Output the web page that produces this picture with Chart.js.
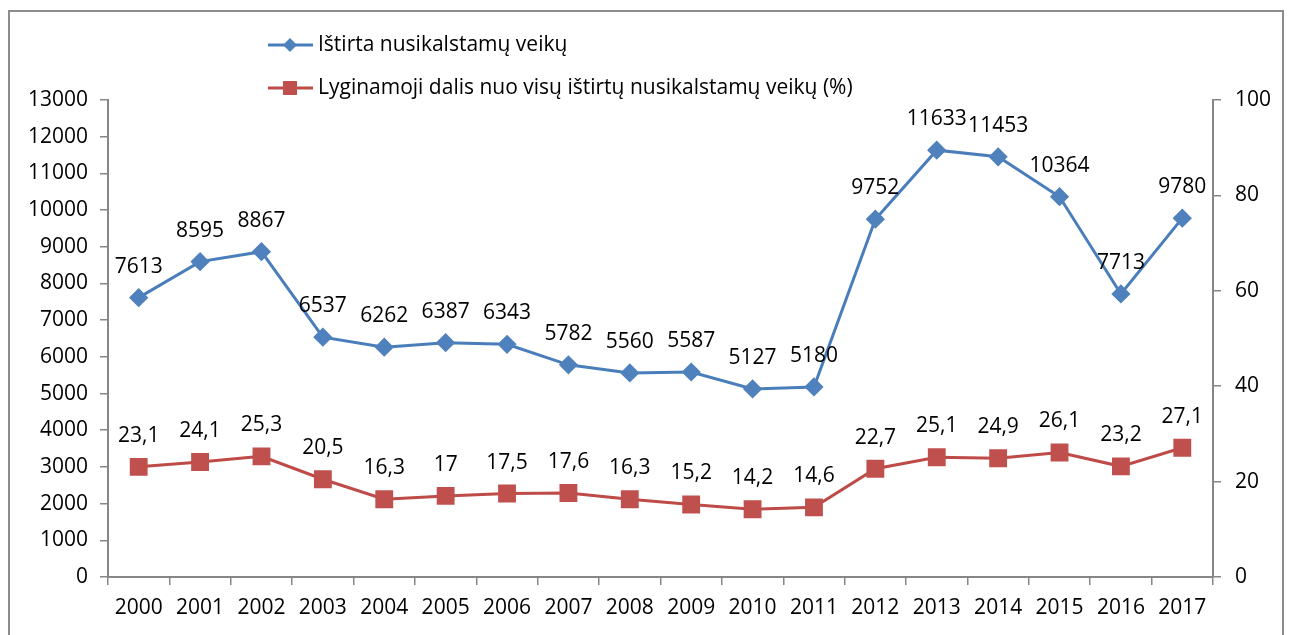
<!DOCTYPE html>
<html>
<head>
<meta charset="utf-8">
<script src="https://cdn.jsdelivr.net/npm/chart.js@4.4.1/dist/chart.umd.min.js"></script>
<style>
html,body{margin:0;padding:0;background:#fff;overflow:hidden;}
#wrap{position:absolute;left:0;top:0;width:1293px;height:635px;}
#frame{position:absolute;left:8px;top:10px;width:1276px;height:640px;border:2px solid #8c8c8c;box-sizing:border-box;}
canvas{position:absolute;left:0;top:0;}
</style>
</head>
<body>
<div id="wrap">
<div id="frame"></div>
<canvas id="c" width="1293" height="635"></canvas>
</div>
<script>
const years = ['2000','2001','2002','2003','2004','2005','2006','2007','2008','2009','2010','2011','2012','2013','2014','2015','2016','2017'];
const investigated = [7613,8595,8867,6537,6262,6387,6343,5782,5560,5587,5127,5180,9752,11633,11453,10364,7713,9780];
const sharePct = [23.1,24.1,25.3,20.5,16.3,17,17.5,17.6,16.3,15.2,14.2,14.6,22.7,25.1,24.9,26.1,23.2,27.1];
const seriesNames = ['Ištirta nusikalstamų veikų','Lyginamoji dalis nuo visų ištirtų nusikalstamų veikų (%)'];

const FONT = '"Open Sans", Lato, sans-serif';
const FS = 21;
const AXIS = '#868686';

function fmt(v){ return String(v).replace('.', ','); }

const labelPlugin = {
  id: 'pointLabels',
  afterDatasetsDraw(chart){
    const ctx = chart.ctx;
    ctx.save();
    ctx.font = FS + 'px ' + FONT;
    ctx.fillStyle = '#000';
    ctx.textAlign = 'center';
    ctx.textBaseline = 'middle';
    chart.data.datasets.forEach((ds, i) => {
      const meta = chart.getDatasetMeta(i);
      meta.data.forEach((pt, j) => {
        ctx.fillText(fmt(ds.data[j]), pt.x, pt.y - 31);
      });
    });
    ctx.restore();
  }
};

const legendPlugin = {
  id: 'customLegend',
  afterDraw(chart){
    const ctx = chart.ctx;
    ctx.save();
    const rows = [45, 88];
    chart.data.datasets.forEach((ds, i) => {
      const y = rows[i];
      ctx.strokeStyle = ds.borderColor;
      ctx.lineWidth = 3;
      ctx.beginPath(); ctx.moveTo(268, y); ctx.lineTo(313, y); ctx.stroke();
      ctx.fillStyle = ds.pointBackgroundColor;
      if (ds.pointStyle === 'rectRot') {
        ctx.beginPath(); ctx.moveTo(290, y-7); ctx.lineTo(297, y); ctx.lineTo(290, y+7); ctx.lineTo(283, y); ctx.closePath(); ctx.fill();
      } else {
        ctx.fillRect(283, y-7, 14, 14);
      }
      ctx.fillStyle = '#000';
      ctx.font = FS + 'px ' + FONT;
      ctx.textAlign = 'left';
      ctx.textBaseline = 'middle';
      ctx.fillText(ds.label, 318, y);
    });
    ctx.restore();
  }
};

new Chart(document.getElementById('c'), {
  type: 'line',
  data: {
    labels: years,
    datasets: [
      {
        label: seriesNames[0],
        data: investigated,
        yAxisID: 'y',
        borderColor: '#4A7EBB',
        backgroundColor: '#4F81BD',
        pointBackgroundColor: '#4F81BD',
        pointBorderColor: '#4F81BD',
        pointStyle: 'rectRot',
        pointRadius: 7.5,
        borderWidth: 3,
        tension: 0
      },
      {
        label: seriesNames[1],
        data: sharePct,
        yAxisID: 'y2',
        borderColor: '#BE4B48',
        backgroundColor: '#C0504D',
        pointBackgroundColor: '#C0504D',
        pointBorderColor: '#C0504D',
        pointStyle: 'rect',
        pointRadius: 10.5,
        borderWidth: 3,
        tension: 0
      }
    ]
  },
  options: {
    responsive: false,
    animation: false,
    layout: { padding: { top: 100, left: 0, right: 0, bottom: 0 } },
    plugins: { legend: { display: false }, tooltip: { enabled: false } },
    scales: {
      x: {
        type: 'category',
        offset: true,
        grid: { offset: true, drawOnChartArea: false, drawTicks: true, tickLength: 8, color: AXIS, lineWidth: 1.5 },
        border: { display: true, color: AXIS, width: 2 },
        ticks: { color: '#000', font: { family: FONT, size: FS }, padding: 10, maxRotation: 0, autoSkip: false },
        afterFit(s){ s.height = 58; }
      },
      y: {
        position: 'left',
        min: 0, max: 13000,
        grid: { drawOnChartArea: false, drawTicks: true, tickLength: 8, color: AXIS, lineWidth: 1.5 },
        border: { display: true, color: AXIS, width: 2 },
        ticks: { stepSize: 1000, color: '#000', font: { family: FONT, size: FS }, padding: 12, callback: v => String(v) },
        afterFit(s){ s.width = 108; }
      },
      y2: {
        position: 'right',
        min: 0, max: 100,
        grid: { drawOnChartArea: false, drawTicks: true, tickLength: 8, color: AXIS, lineWidth: 1.5 },
        border: { display: true, color: AXIS, width: 2 },
        ticks: { stepSize: 20, color: '#000', font: { family: FONT, size: FS }, padding: 14, callback: v => String(v) },
        afterFit(s){ s.width = 80; }
      }
    }
  },
  plugins: [labelPlugin, legendPlugin]
});
</script>
</body>
</html>
